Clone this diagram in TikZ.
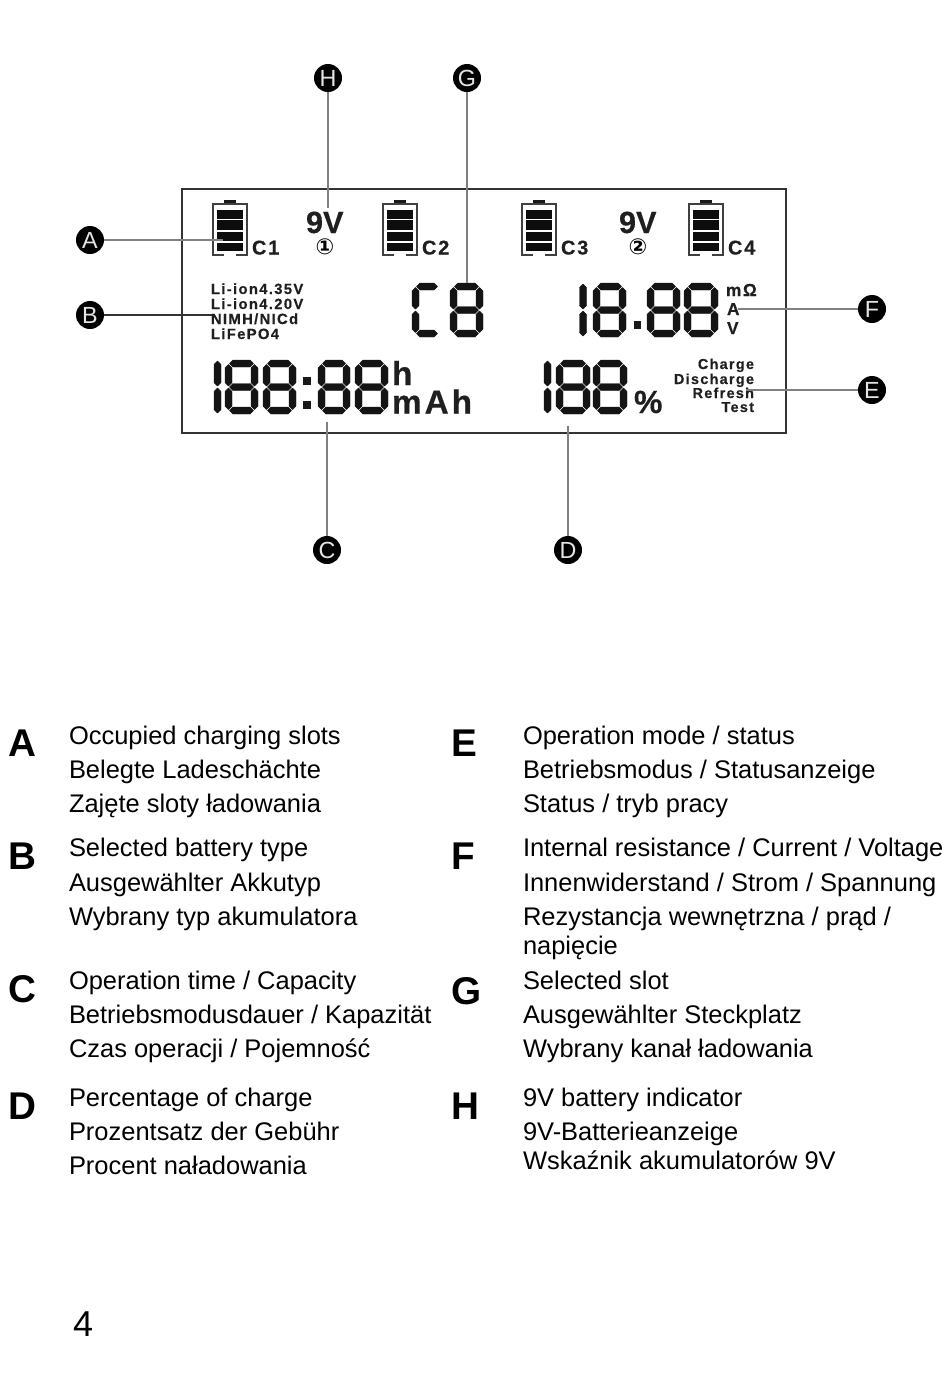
\documentclass[tikz,border=0pt]{standalone}
\usepackage{fontspec}
\setmainfont{Liberation Sans}
\newfontfamily\symfont{DejaVu Sans Bold}
\newfontfamily\lcdfont{Liberation Sans Bold}[LetterSpace=9,FakeBold=0.4]
\newfontfamily\lcdwide{Liberation Sans Bold}[LetterSpace=9,FakeBold=0.4]
\newfontfamily\lcdplain{Liberation Sans Bold}[FakeBold=0.4]
\tikzset{
  every node/.style={inner sep=0pt,outer sep=0pt},
  body/.style={anchor=base west,font=\fontsize{19.1pt}{22pt}\selectfont,text=black},
  key/.style={anchor=base west,font=\fontsize{29pt}{32pt}\selectfont\bfseries,text=black},
  marker/.style={circle,fill=black,minimum size=21pt,text=white!90!black,font=\fontsize{17.5pt}{17.5pt}\selectfont},
  lead/.style={draw=black!50,line width=0.9pt},
  leaddark/.style={draw=black!80,line width=1pt},
  lcd/.style={text=black!88,anchor=base west},
  lcdtype/.style={lcd,font=\fontsize{11.1pt}{10pt}\lcdfont},
  lcdmode/.style={text=black!88,anchor=base east,font=\fontsize{10.8pt}{10pt}\lcdfont},
  slot/.style={lcd,font=\fontsize{15pt}{14pt}\lcdfont},
  nine/.style={lcd,font=\fontsize{23pt}{21pt}\lcdplain},
  circnum/.style={text=black,font=\fontsize{16.5pt}{17pt}\symfont},
  unit/.style={lcd,font=\fontsize{25pt}{22pt}\lcdwide},
  smallunit/.style={lcd,font=\fontsize{13pt}{12pt}\lcdfont},
  segf/.style={fill=black!92,draw=black!92,line width=0.3pt,line join=round},
}
% horizontal segment: xa xb y
\newcommand{\hseg}[3]{\fill[segf] ({#1+4.5},#3) -- ({#1+8},{#3-3.5}) -- ({#2-8},{#3-3.5}) -- ({#2-4.5},#3) -- ({#2-8},{#3+3.5}) -- ({#1+8},{#3+3.5}) -- cycle;}
% vertical segment: x ya yb
\newcommand{\vseg}[3]{\fill[segf] (#1,#2) -- ({#1+3.5},{#2+3.5}) -- ({#1+3.5},{#3-3.5}) -- (#1,#3) -- ({#1-3.5},{#3-3.5}) -- ({#1-3.5},{#2+3.5}) -- cycle;}
\newcommand{\eight}[4]{% x0 y0 x1 y1
  \pgfmathsetmacro\ym{(#2+#4)/2}
  \hseg{#1}{#3}{#2+3.5}\hseg{#1}{#3}{\ym}\hseg{#1}{#3}{#4-3.5}
  \vseg{#1+3.5}{#2+4.5}{\ym-1}\vseg{#3-3.5}{#2+4.5}{\ym-1}
  \vseg{#1+3.5}{\ym+1}{#4-4.5}\vseg{#3-3.5}{\ym+1}{#4-4.5}}
\newcommand{\onedig}[4]{% x0 y0 x1 y1
  \pgfmathsetmacro\ym{(#2+#4)/2}
  \pgfmathsetmacro\xc{(#1+#3)/2}
  \vseg{\xc}{#2+1}{\ym-1}\vseg{\xc}{\ym+1}{#4-1}}
\newcommand{\battery}[2]{% x y(top of body)
  \fill[black!90] ({#1+11},{#2-4}) rectangle ({#1+23},#2);
  \draw[black!75,line width=1.2pt] ({#1+11},{#2+51}) -- (#1,{#2+51}) -- (#1,#2) -- ({#1+34},#2) -- ({#1+34},{#2+51}) -- ({#1+23},{#2+51});
  \fill[black!95] ({#1+4},{#2+6}) rectangle ({#1+30},{#2+14.5});
  \fill[black!95] ({#1+4},{#2+16}) rectangle ({#1+30},{#2+26});
  \fill[black!95] ({#1+4},{#2+27.5}) rectangle ({#1+30},{#2+37});
  \fill[black!95] ({#1+4},{#2+38.5}) rectangle ({#1+30},{#2+47});}
\begin{document}
\begin{tikzpicture}[x=0.75pt,y=-0.75pt]
\useasboundingbox (0,0) rectangle (950,1393);
% LCD frame
\node[draw=black!80,line width=1.9pt,minimum width=453pt,minimum height=183pt,anchor=north west] (frame) at (182,189) {};
% batteries
\battery{213}{204}\battery{383}{204}\battery{522}{204}\battery{689}{204}
\node[slot] (c1) at (252,254.5) {C1};
\node[slot] (c2) at (422,254.5) {C2};
\node[slot] (c3) at (561,254.5) {C3};
\node[slot] (c4) at (728,254.5) {C4};
\node[nine] (v1) at (306,233) {9V};
\node[nine] (v2) at (619,233) {9V};
\node[circnum] (n1) at (325,247) {①};
\node[circnum] (n2) at (638,247) {②};
% battery types
\node[lcdtype] (t1) at (211,294) {Li-ion4.35V};
\node[lcdtype] (t2) at (211,309) {Li-ion4.20V};
\node[lcdtype] (t3) at (211,324) {NIMH/NICd};
\node[lcdtype] (t4) at (211,339) {LiFePO4};
% C8
\hseg{412}{442}{286.5}\hseg{412}{442}{333.5}
\vseg{415.5}{287.5}{309}\vseg{415.5}{311}{332.5}
\eight{450}{283}{483}{337}
% 18.88
\onedig{579}{283}{587}{337}
\eight{593}{283}{626}{337}
\fill[black!90] (634,321) rectangle (641,329);
\eight{647}{283}{680}{337}
\eight{684}{283}{718}{337}
% 188:88
\onedig{213}{360}{222}{414}
\eight{225}{360}{258}{414}
\eight{263}{360}{296}{414}
\fill[black!90] (303,377) rectangle (311,385);
\fill[black!90] (303,401) rectangle (311,409);
\eight{318}{360}{350}{414}
\eight{355}{360}{388}{414}
% 188
\onedig{543}{360}{552}{414}
\eight{556}{360}{590}{414}
\eight{593}{360}{627}{414}
% units
\node[unit] (uh) at (392,385) {h};
\node[unit] (umah) at (392,413.5) {mAh};
\node[lcd,font=\fontsize{24pt}{18pt}\lcdplain] (upct) at (634,413) {\%};
\node[smallunit] (um) at (726,296) {mΩ};
\node[smallunit] (ua) at (727,315) {A};
\node[smallunit] (uv) at (727,334) {V};
\node[lcdmode] (m1) at (754,369) {Charge};
\node[lcdmode] (m2) at (754,384) {Discharge};
\node[lcdmode] (m3) at (754,398) {Refresh};
\node[lcdmode] (m4) at (754,412) {Test};
% markers
\node[marker] (H) at (328,78) {H};
\node[marker] (G) at (467,78) {G};
\node[marker] (A) at (90,240) {A};
\node[marker] (B) at (90,315) {B};
\node[marker] (F) at (872,309) {F};
\node[marker] (E) at (872,390) {E};
\node[marker] (C) at (327,550) {C};
\node[marker] (D) at (568,550) {D};
% leader ends
\coordinate (eH) at (328,208);
\coordinate (eG) at (467,283);
\coordinate (eA) at (223,240);
\coordinate (eB) at (212,315);
\coordinate (eF) at (738,309);
\coordinate (eE) at (746,390);
\coordinate (eC) at (327,422);
\coordinate (eD) at (568,426);
\draw[lead] (H) -- (eH);
\draw[lead] (G) -- (eG);
\draw[lead] (A) -- (eA);
\draw[leaddark] (B) -- (eB);
\draw[lead] (F) -- (eF);
\draw[lead] (E) -- (eE);
\draw[lead] (C) -- (eC);
\draw[lead] (D) -- (eD);
% legend
\node[key] (kA) at (8,756) {A};
\node[key] (kB) at (8,869) {B};
\node[key] (kC) at (8,1002) {C};
\node[key] (kD) at (8,1119) {D};
\node[key] (kE) at (451,756) {E};
\node[key] (kF) at (451,869) {F};
\node[key] (kG) at (451,1004) {G};
\node[key] (kH) at (451,1119) {H};
\node[body] (a1) at (69,744) {Occupied charging slots};
\node[body] (a2) at (69,778) {Belegte Ladeschächte};
\node[body] (a3) at (69,812) {Zajęte sloty ładowania};
\node[body] (b1) at (69,856) {Selected battery type};
\node[body] (b2) at (69,891) {Ausgewählter Akkutyp};
\node[body] (b3) at (69,925) {Wybrany typ akumulatora};
\node[body] (c1t) at (69,989) {Operation time / Capacity};
\node[body] (c2t) at (69,1023) {Betriebsmodusdauer / Kapazität};
\node[body] (c3t) at (69,1057) {Czas operacji / Pojemność};
\node[body] (d1) at (69,1106) {Percentage of charge};
\node[body] (d2) at (69,1140) {Prozentsatz der Gebühr};
\node[body] (d3) at (69,1174) {Procent naładowania};
\node[body] (e1) at (523,744) {Operation mode / status};
\node[body] (e2) at (523,778) {Betriebsmodus / Statusanzeige};
\node[body] (e3) at (523,812) {Status / tryb pracy};
\node[body] (f1) at (523,856) {Internal resistance / Current / Voltage};
\node[body] (f2) at (523,891) {Innenwiderstand / Strom / Spannung};
\node[body] (f3) at (523,925) {Rezystancja wewnętrzna / prąd /};
\node[body] (f4) at (523,954) {napięcie};
\node[body] (g1) at (523,989) {Selected slot};
\node[body] (g2) at (523,1023) {Ausgewählter Steckplatz};
\node[body] (g3) at (523,1057) {Wybrany kanał ładowania};
\node[body] (h1) at (523,1106) {9V battery indicator};
\node[body] (h2) at (523,1140) {9V-Batterieanzeige};
\node[body] (h3) at (523,1169) {Wskaźnik akumulatorów 9V};
\node[anchor=base west,font=\fontsize{27pt}{30pt}\selectfont] (page) at (73,1336) {4};
\end{tikzpicture}
\end{document}
